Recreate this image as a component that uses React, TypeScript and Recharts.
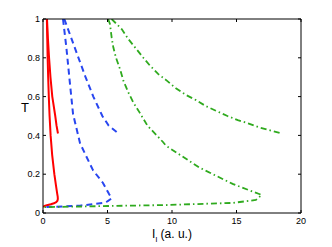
import React from 'react';
import { LineChart, Line, XAxis, YAxis } from 'recharts';

// Red solid – lower branch
const redLowerI = [0.3, 0.33, 0.36, 0.4, 0.45, 0.51, 0.59, 0.71, 0.88, 1.01, 1.1, 1.14, 1.15, 1.12, 1.02, 0.85, 0.6, 0.3, 0.12, 0];
const redLowerT = [1, 0.9, 0.8, 0.7, 0.6, 0.5, 0.4, 0.3, 0.2, 0.14, 0.1, 0.085, 0.072, 0.063, 0.056, 0.05, 0.045, 0.04, 0.036, 0.032];
// Red solid – upper branch
const redUpperI = [0.31, 0.38, 0.47, 0.58, 0.72, 0.95, 1.05, 1.16];
const redUpperT = [1, 0.9, 0.8, 0.7, 0.6, 0.5, 0.45, 0.41];

// Blue dashed – lower branch
const blueLowerI = [1.55, 1.81, 2.07, 2.33, 2.87, 3.37, 3.88, 4.65, 5.1, 5.32, 5.0, 4.65, 3.8, 2.87, 1.5, 0];
const blueLowerT = [1, 0.854, 0.68, 0.51, 0.36, 0.29, 0.22, 0.155, 0.1, 0.076, 0.06, 0.052, 0.045, 0.038, 0.034, 0.03];
// Blue dashed – upper branch
const blueUpperI = [1.65, 2.2, 2.75, 3.3, 3.9, 4.6, 5.1, 5.84];
const blueUpperT = [1, 0.9, 0.8, 0.7, 0.6, 0.5, 0.45, 0.41];

// Green dash-dot – lower branch
const greenLowerI = [5.05, 5.19, 5.32, 5.45, 5.66, 5.97, 6.23, 6.61, 7.0, 7.47, 8.1, 9.3, 9.53, 12.1, 14.7, 16.95, 16.5, 14.7, 9.5, 5.0, 0];
const greenLowerT = [1, 0.974, 0.906, 0.854, 0.8, 0.742, 0.682, 0.622, 0.57, 0.52, 0.45, 0.366, 0.347, 0.235, 0.15, 0.093, 0.067, 0.052, 0.041, 0.036, 0.03];
// Green dash-dot – upper branch
const greenUpperI = [5.32, 6.1, 6.61, 7.13, 7.78, 8.29, 8.94, 9.53, 10.3, 11.09, 11.86, 12.6, 13.4, 14.3, 15.1, 15.9, 16.8, 18.45];
const greenUpperT = [1, 0.948, 0.897, 0.854, 0.8, 0.76, 0.716, 0.686, 0.643, 0.608, 0.582, 0.552, 0.527, 0.5, 0.479, 0.462, 0.44, 0.411];

const xTicks = [0, 5, 10, 15, 20];
const yTicks = [0, 0.2, 0.4, 0.6, 0.8, 1];
const yTickLabels = ['0', '0.2', '0.4', '0.6', '0.8', '1'];

const toPts = (I: number[], T: number[]) => I.map((v, i) => ({ x: v, T: T[i] }));

const FONT = '"Liberation Sans", Arial, Helvetica, sans-serif';

const BottomTick = (props: any) => {
  const { x, y, payload } = props;
  return (
    <g>
      <line x1={x} y1={y} x2={x} y2={y - 3} stroke="#000" strokeWidth={1} />
      <text x={x} y={y + 11} textAnchor="middle" fontSize={9} fontFamily={FONT} fill="#000">
        {payload.value}
      </text>
    </g>
  );
};

const LeftTick = (props: any) => {
  const { x, y, payload, index } = props;
  return (
    <g>
      <line x1={x} y1={y} x2={x + 3} y2={y} stroke="#000" strokeWidth={1} />
      <text x={x - 3} y={y + 3.2} textAnchor="end" fontSize={9} fontFamily={FONT} fill="#000">
        {yTickLabels[index] ?? payload.value}
      </text>
    </g>
  );
};

const TopTick = (props: any) => {
  const { x, y } = props;
  return <line x1={x} y1={y} x2={x} y2={y + 3} stroke="#000" strokeWidth={1} />;
};

const RightTick = (props: any) => {
  const { x, y } = props;
  return <line x1={x} y1={y} x2={x - 3} y2={y} stroke="#000" strokeWidth={1} />;
};

const XLabel = (props: any) => {
  const vb = props.viewBox || { x: 43, y: 213, width: 258, height: 20 };
  const cx = vb.x + vb.width / 2;
  return (
    <text x={cx} y={vb.y + 25} textAnchor="middle" fontSize={12} fontFamily={FONT} fill="#000">
      <tspan>I</tspan>
      <tspan fontSize={8} dy={4}>l</tspan>
      <tspan dy={-4}> (a. u.)</tspan>
    </text>
  );
};

const YLabel = (props: any) => {
  const vb = props.viewBox || { x: 8, y: 19, width: 35, height: 194 };
  return (
    <text x={vb.x + 17} y={vb.y + vb.height / 2 - 4} textAnchor="middle" fontSize={13} fontFamily={FONT} fill="#000">
      T
    </text>
  );
};

export default function App() {
  return (
    <div style={{ position: 'absolute', left: 0, top: 0, width: 332, height: 247, background: '#fff' }}>
      <LineChart width={332} height={247} margin={{ top: 14, right: 26, bottom: 14, left: 8 }}>
        <XAxis
          xAxisId="b"
          type="number"
          dataKey="x"
          domain={[0, 20]}
          ticks={xTicks}
          orientation="bottom"
          height={20}
          tickSize={0}
          tickMargin={0}
          tick={<BottomTick />}
          axisLine={{ stroke: '#000', strokeWidth: 1 }}
          allowDataOverflow
          label={<XLabel />}
        />
        <XAxis
          xAxisId="t"
          type="number"
          dataKey="x"
          domain={[0, 20]}
          ticks={xTicks}
          orientation="top"
          height={5}
          tickSize={0}
          tickMargin={0}
          tick={<TopTick />}
          axisLine={{ stroke: '#000', strokeWidth: 1 }}
          allowDataOverflow
        />
        <YAxis
          yAxisId="l"
          type="number"
          dataKey="T"
          domain={[0, 1]}
          ticks={yTicks}
          orientation="left"
          width={35}
          tickSize={0}
          tickMargin={0}
          tick={<LeftTick />}
          axisLine={{ stroke: '#000', strokeWidth: 1 }}
          allowDataOverflow
          label={<YLabel />}
        />
        <YAxis
          yAxisId="r"
          type="number"
          dataKey="T"
          domain={[0, 1]}
          ticks={yTicks}
          orientation="right"
          width={5}
          tickSize={0}
          tickMargin={0}
          tick={<RightTick />}
          axisLine={{ stroke: '#000', strokeWidth: 1 }}
          allowDataOverflow
        />
        <Line xAxisId="t" yAxisId="r" data={toPts(redUpperI, redUpperT)} dataKey="T" stroke="none" dot={false} isAnimationActive={false} legendType="none" />
        <Line xAxisId="b" yAxisId="l" data={toPts(redLowerI, redLowerT)} dataKey="T" type="linear" stroke="#ff0000" strokeWidth={2} dot={false} isAnimationActive={false} />
        <Line xAxisId="b" yAxisId="l" data={toPts(redUpperI, redUpperT)} dataKey="T" type="linear" stroke="#ff0000" strokeWidth={2} dot={false} isAnimationActive={false} />
        <Line xAxisId="b" yAxisId="l" data={toPts(blueLowerI, blueLowerT)} dataKey="T" type="linear" stroke="#2846f0" strokeWidth={2} strokeDasharray="6 4" dot={false} isAnimationActive={false} />
        <Line xAxisId="b" yAxisId="l" data={toPts(blueUpperI, blueUpperT)} dataKey="T" type="linear" stroke="#2846f0" strokeWidth={2} strokeDasharray="6 4" dot={false} isAnimationActive={false} />
        <Line xAxisId="b" yAxisId="l" data={toPts(greenLowerI, greenLowerT)} dataKey="T" type="linear" stroke="#2faa1e" strokeWidth={1.8} strokeDasharray="6 3 1.5 3" dot={false} isAnimationActive={false} />
        <Line xAxisId="b" yAxisId="l" data={toPts(greenUpperI, greenUpperT)} dataKey="T" type="linear" stroke="#2faa1e" strokeWidth={1.8} strokeDasharray="6 3 1.5 3" dot={false} isAnimationActive={false} />
      </LineChart>
    </div>
  );
}
